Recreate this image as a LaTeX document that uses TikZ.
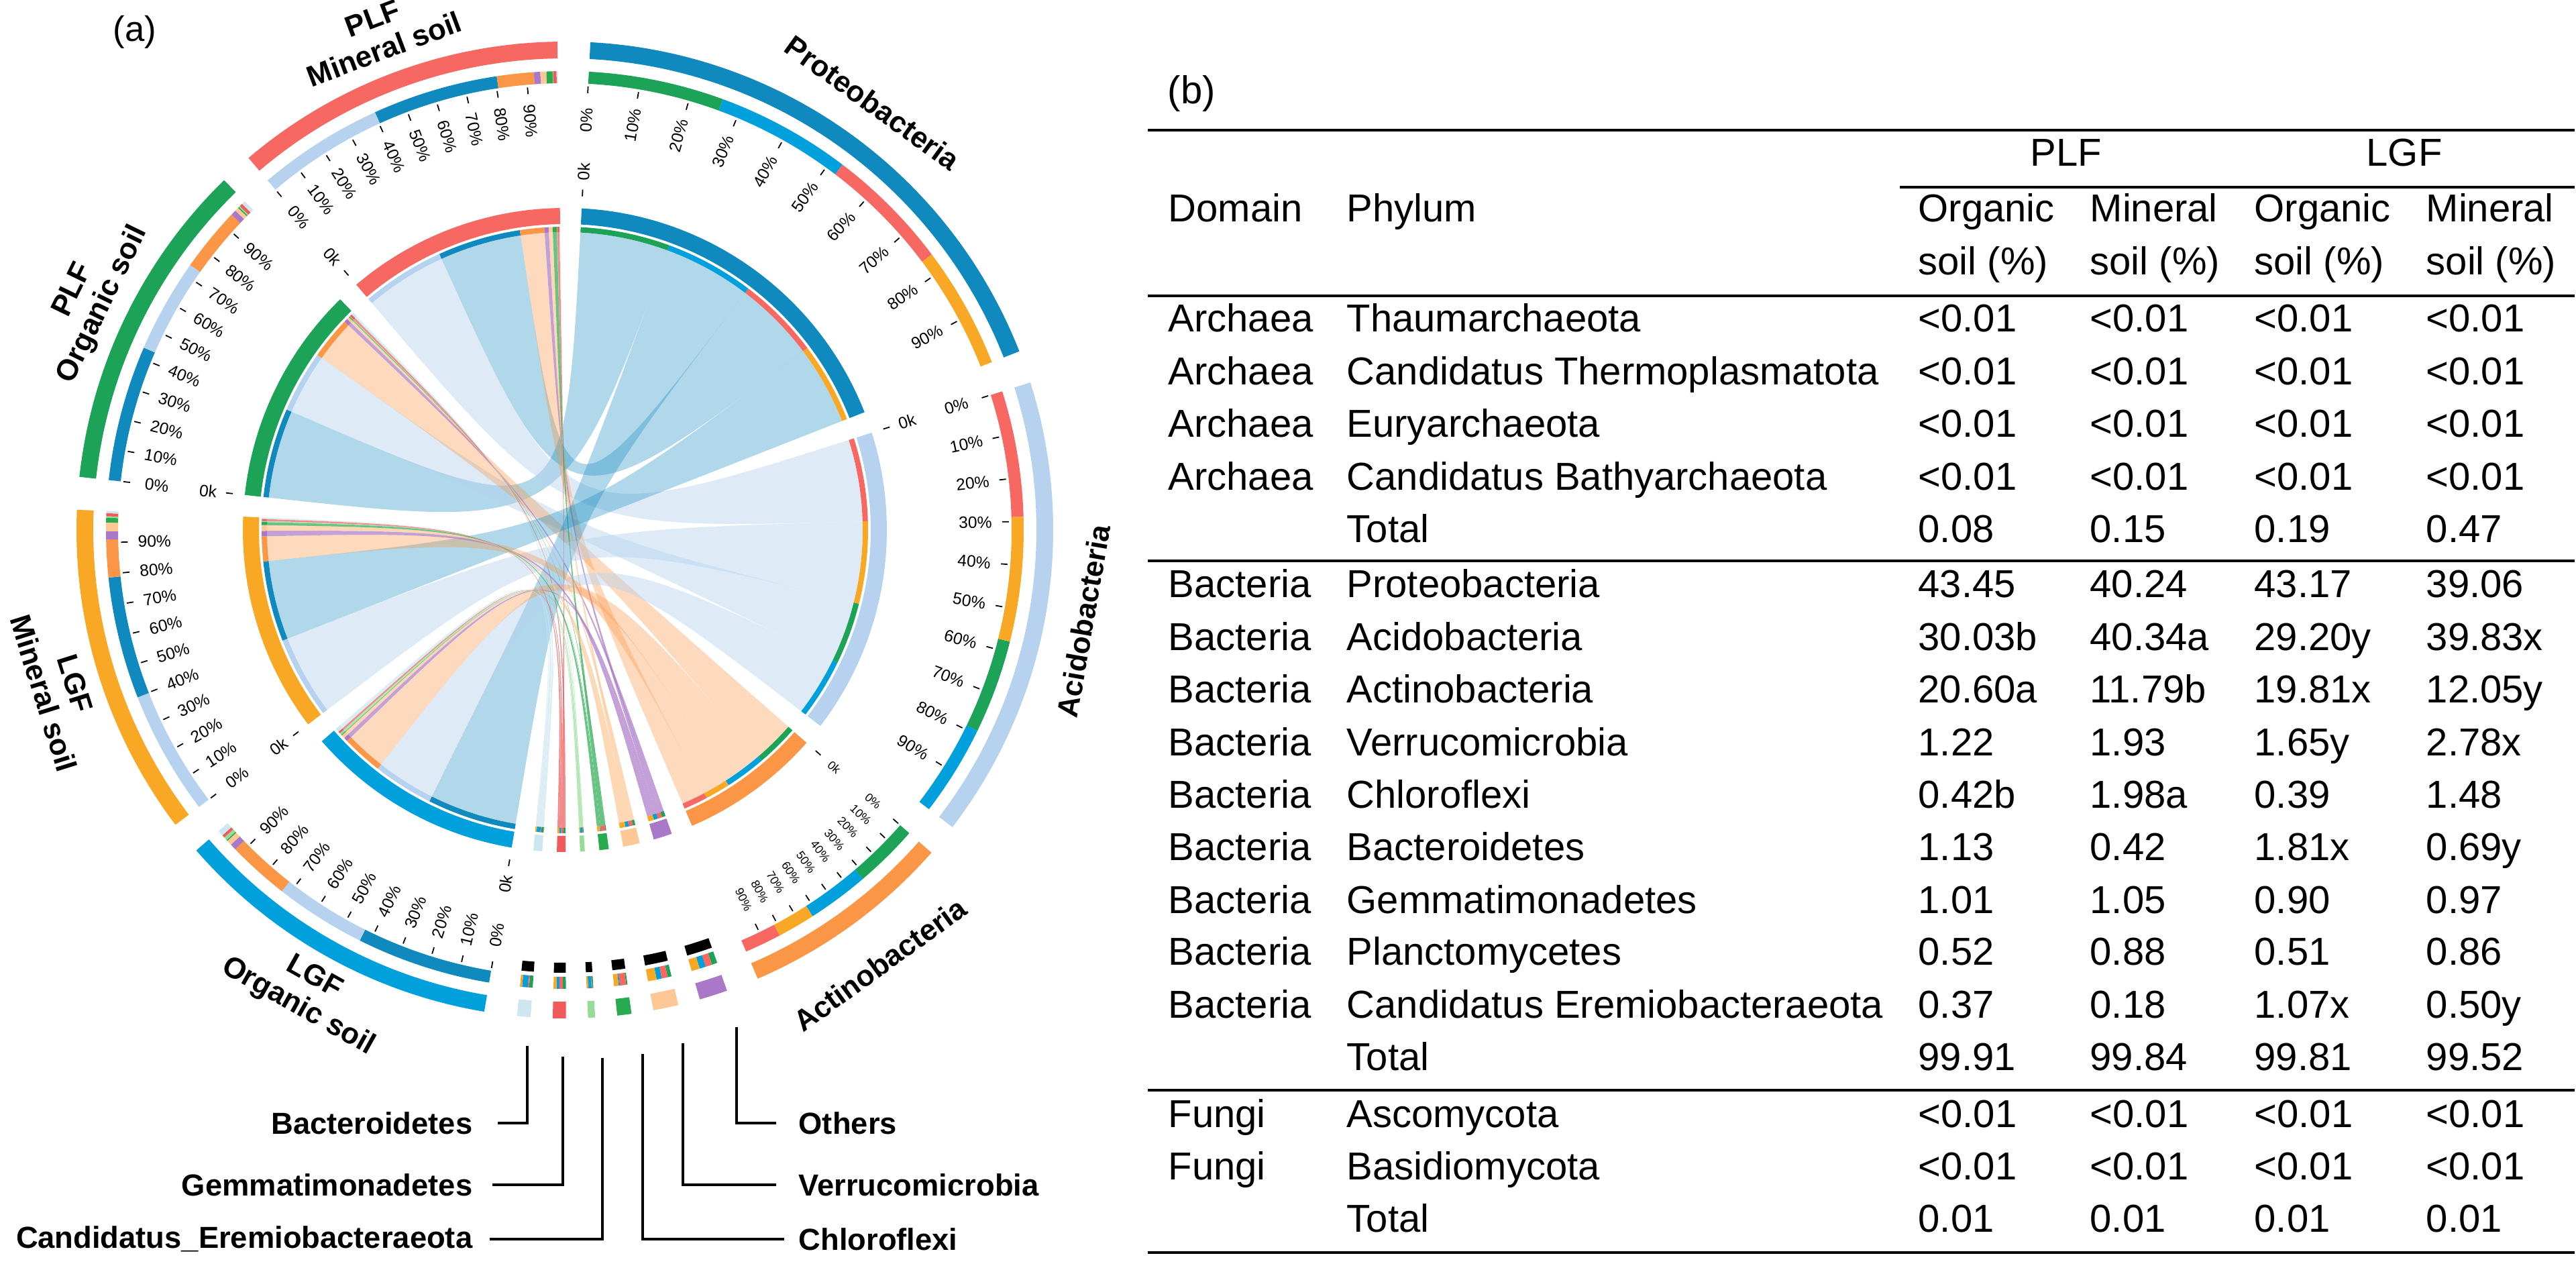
\documentclass[tikz,border=0pt]{standalone}
\usepackage{fontspec}
\setmainfont{Liberation Sans}
\usetikzlibrary{positioning}

\definecolor{plfmin}{RGB}{247,104,98}
\definecolor{plforg}{RGB}{28,163,88}
\definecolor{lgfmin}{RGB}{249,168,37}
\definecolor{lgforg}{RGB}{0,160,220}
\definecolor{proteo}{RGB}{16,137,190}
\definecolor{acido}{RGB}{182,210,238}
\definecolor{actino}{RGB}{250,150,70}
\definecolor{others}{RGB}{170,120,200}
\definecolor{verruco}{RGB}{253,200,150}
\definecolor{chloro}{RGB}{40,170,80}
\definecolor{cand}{RGB}{150,220,150}
\definecolor{gemmat}{RGB}{240,90,90}
\definecolor{bact}{RGB}{205,230,240}

% ring segment between two radii
\newcommand{\arcband}[5]{\fill[#5] (#1:#3) arc[start angle=#1,end angle=#2,radius=#3] -- (#2:#4) arc[start angle=#2,end angle=#1,radius=#4] -- cycle;}
% sample -> phylum ribbon, with its bars on both ends
\newcommand{\phylink}[7]{%
\fill[#7] (#1:4.44) arc[start angle=#1,end angle=#2,radius=4.44] .. controls (0,0) .. (#3:4.44) arc[start angle=#3,end angle=#4,radius=4.44] .. controls (0,0) .. (#1:4.44) -- cycle;
\arcband{#1}{#2}{4.44}{4.52}{#6}
\arcband{#1}{#2}{6.66}{6.84}{#6}
\arcband{#3}{#4}{4.44}{4.52}{#5}
\arcband{#3}{#4}{6.66}{6.84}{#5}}
% sector with axis and labels
\newcommand{\sector}[4]{%
\arcband{#1}{#2}{4.56}{4.80}{#3}
\arcband{#1}{#2}{7.03}{7.28}{#3}
\foreach \p in {0,...,9}{%
  \pgfmathsetmacro{\ang}{#1+(#2-#1)*\p/10}
  \pgfmathsetmacro{\rot}{cos(\ang)>=0 ? \ang : \ang+180}
  \draw[tickline] (\ang:6.52) -- (\ang:6.62);
  \node[pctlbl,rotate=\rot] (#4-\p) at (\ang:6.12) {\ifnum\p=0 0\else\p0\fi\%};
}
\pgfmathsetmacro{\rot}{cos(#1)>=0 ? #1 : #1+180}
\draw[tickline] (#1:4.98) -- (#1:5.08);
\node[pctlbl,rotate=\rot] (#4-k) at (#1:5.35) {0k};}
\newcommand{\smallsector}[3]{%
\arcband{#1}{#2}{4.56}{4.80}{#3}
\arcband{#1}{#2}{7.03}{7.28}{#3}
\arcband{#1}{#2}{6.45}{6.60}{black}}

\begin{document}
\begin{tikzpicture}[
    tickline/.style={line width=0.5pt},
    pctlbl/.style={font=\fontsize{7}{8}\selectfont, inner sep=0pt},
    secname/.style={font=\bfseries\fontsize{12.5}{14}\selectfont, align=center, inner sep=0pt},
    lbl/.style={font=\bfseries\fontsize{12.9}{15}\selectfont, inner sep=0pt},
    leader/.style={line width=1.2pt},
    tbl/.style={font=\fontsize{16.5}{19}\selectfont, anchor=west, inner sep=0pt, text height=1.2ex, text depth=0.25ex},
    rule/.style={line width=1pt},
    proteolink/.style={fill=proteo, opacity=0.33},
    acidolink/.style={fill=acido, opacity=0.45},
    actinolink/.style={fill=actino, opacity=0.35},
    smalllink/.style={fill=#1, opacity=0.7}]
\useasboundingbox (0,0) rectangle (38.4,18.95);

\node[font=\fontsize{15}{17}\selectfont, inner sep=0pt] (alabel) at (2.01,18.47) {(a)};

\begin{scope}[shift={(8.42,11.05)}]
% PLF organic soil
\phylink{-186.25}{-203.413}{87}{69.837}{plforg}{proteo}{proteolink}
\phylink{-203.413}{-215.275}{-14.080}{-25.942}{plforg}{acido}{acidolink}
\phylink{-215.275}{-223.412}{-41.351}{-49.488}{plforg}{actino}{actinolink}
\phylink{-223.412}{-224.111}{-70.605}{-71.304}{plforg}{others}{smalllink=others}
\phylink{-224.111}{-224.593}{-76.555}{-77.037}{plforg}{verruco}{smalllink=verruco}
\phylink{-224.593}{-224.759}{-82.149}{-82.315}{plforg}{chloro}{smalllink=chloro}
\phylink{-224.759}{-224.905}{-86.436}{-86.582}{plforg}{cand}{smalllink=cand}
\phylink{-224.905}{-225.304}{-89.873}{-90.272}{plforg}{gemmat}{smalllink=gemmat}
\phylink{-225.304}{-225.750}{-94.025}{-94.471}{plforg}{bact}{smalllink=bact}
% PLF mineral soil
\phylink{-229.625}{-245.559}{17.587}{1.653}{plfmin}{acido}{acidolink}
\phylink{-245.559}{-261.454}{52.785}{36.890}{plfmin}{proteo}{proteolink}
\phylink{-261.454}{-266.111}{-62.073}{-66.730}{plfmin}{actino}{actinolink}
\phylink{-266.111}{-266.929}{-71.304}{-72.122}{plfmin}{others}{smalllink=others}
\phylink{-266.929}{-267.691}{-77.037}{-77.799}{plfmin}{verruco}{smalllink=verruco}
\phylink{-267.691}{-268.473}{-82.315}{-83.097}{plfmin}{chloro}{smalllink=chloro}
\phylink{-268.473}{-268.544}{-86.582}{-86.653}{plfmin}{cand}{smalllink=cand}
\phylink{-268.544}{-268.959}{-90.272}{-90.687}{plfmin}{gemmat}{smalllink=gemmat}
\phylink{-268.959}{-269.125}{-94.471}{-94.637}{plfmin}{bact}{smalllink=bact}
% LGF organic soil
\phylink{-99.5}{-116.552}{69.837}{52.785}{lgforg}{proteo}{proteolink}
\phylink{-116.552}{-128.086}{-25.942}{-37.476}{lgforg}{acido}{acidolink}
\phylink{-128.086}{-135.911}{-49.488}{-57.313}{lgforg}{actino}{actinolink}
\phylink{-135.911}{-136.701}{-72.122}{-72.912}{lgforg}{others}{smalllink=others}
\phylink{-136.701}{-137.353}{-77.799}{-78.451}{lgforg}{verruco}{smalllink=verruco}
\phylink{-137.353}{-137.507}{-83.097}{-83.251}{lgforg}{chloro}{smalllink=chloro}
\phylink{-137.507}{-137.930}{-86.653}{-87.076}{lgforg}{cand}{smalllink=cand}
\phylink{-137.930}{-138.286}{-90.687}{-91.043}{lgforg}{gemmat}{smalllink=gemmat}
\phylink{-138.286}{-139.0}{-94.637}{-95.352}{lgforg}{bact}{smalllink=bact}
% LGF mineral soil
\phylink{-142.875}{-158.608}{1.653}{-14.080}{lgfmin}{acido}{acidolink}
\phylink{-158.608}{-174.037}{36.890}{21.462}{lgfmin}{proteo}{proteolink}
\phylink{-174.037}{-178.797}{-57.313}{-62.073}{lgfmin}{actino}{actinolink}
\phylink{-178.797}{-179.840}{-72.912}{-73.955}{lgfmin}{others}{smalllink=others}
\phylink{-179.840}{-180.938}{-78.451}{-79.549}{lgfmin}{verruco}{smalllink=verruco}
\phylink{-180.938}{-181.523}{-83.251}{-83.836}{lgfmin}{chloro}{smalllink=chloro}
\phylink{-181.523}{-181.721}{-87.076}{-87.274}{lgfmin}{cand}{smalllink=cand}
\phylink{-181.721}{-182.104}{-91.043}{-91.426}{lgfmin}{gemmat}{smalllink=gemmat}
\phylink{-182.104}{-182.375}{-95.352}{-95.625}{lgfmin}{bact}{smalllink=bact}

% sectors
\sector{87}{21.462}{proteo}{pro}
\sector{17.587}{-37.476}{acido}{aci}
\begin{scope}[pctlbl/.append style={font=\fontsize{5}{6}\selectfont}]
\sector{-41.351}{-66.730}{actino}{act}
\end{scope}
\sector{-99.5}{-139.0}{lgforg}{lo}
\sector{-142.875}{-182.375}{lgfmin}{lm}
\sector{-186.25}{-225.75}{plforg}{po}
\sector{-229.625}{-269.125}{plfmin}{pm}
\smallsector{-70.605}{-73.955}{others}
\smallsector{-76.555}{-79.549}{verruco}
\smallsector{-82.149}{-83.836}{chloro}
\smallsector{-86.436}{-87.274}{cand}
\smallsector{-89.873}{-91.426}{gemmat}
\smallsector{-94.025}{-95.625}{bact}

% sector names
\node[secname, rotate=-35.77] (proname) at (54.23:7.85) {Proteobacteria};
\node[secname, rotate=80.06] (aciname) at (-9.94:7.85) {Acidobacteria};
\node[secname, rotate=35.96] (actname) at (-54.04:8.0) {Actinobacteria};
\node[secname, rotate=20.6] (pmname) at (110.6:7.9) {PLF\\Mineral soil};
\node[secname, rotate=64] (poname) at (154:7.9) {PLF\\Organic soil};
\node[secname, rotate=-72.6] (lmname) at (197.4:7.9) {LGF\\Mineral soil};
\node[secname, rotate=-29.25] (loname) at (-119.25:7.9) {LGF\\Organic soil};
\end{scope}

% leaders for the small phyla
\coordinate (bactTop) at (7.86,3.36);
\coordinate (gemTop) at (8.39,3.20);
\coordinate (candTop) at (8.98,3.18);
\coordinate (chlTop) at (9.58,3.24);
\coordinate (verTop) at (10.18,3.40);
\coordinate (othTop) at (10.98,3.64);
\node[lbl, anchor=east] (bactLbl) at (7.05,2.21) {Bacteroidetes};
\node[lbl, anchor=east] (gemLbl) at (7.05,1.29) {Gemmatimonadetes};
\node[lbl, anchor=east] (candLbl) at (7.05,0.48) {Candidatus\_Eremiobacteraeota};
\node[lbl, anchor=west] (othLbl) at (11.90,2.21) {Others};
\node[lbl, anchor=west] (verLbl) at (11.90,1.29) {Verrucomicrobia};
\node[lbl, anchor=west] (chlLbl) at (11.90,0.48) {Chloroflexi};
\draw[leader] (bactTop) |- ([xshift=3.7mm]bactLbl.east);
\draw[leader] (gemTop) |- ([xshift=2.9mm]gemLbl.east);
\draw[leader] (candTop) |- ([xshift=2.5mm]candLbl.east);
\draw[leader] (othTop) |- ([xshift=-3.3mm]othLbl.west);
\draw[leader] (verTop) |- ([xshift=-3.3mm]verLbl.west);
\draw[leader] (chlTop) |- ([xshift=-2.1mm]chlLbl.west);

% table (b)
\node[tbl] (blabel) at (17.40,17.49) {(b)};
\draw[rule] (17.11,17.01) -- (38.38,17.01);
\draw[rule] (28.32,16.16) -- (38.38,16.16);
\draw[rule] (17.11,14.54) -- (38.38,14.54);
\draw[rule] (17.11,10.59) -- (38.38,10.59);
\draw[rule] (17.11,2.70) -- (38.38,2.70);
\draw[rule] (17.11,0.28) -- (38.38,0.28);
\node[tbl, anchor=center] (hplf) at (30.80,16.56) {PLF};
\node[tbl, anchor=center] (hlgf) at (35.84,16.56) {LGF};
\node[tbl] (hdom) at (17.41,15.73) {Domain};
\node[tbl] (hphy) at (20.07,15.73) {Phylum};
\node[tbl] (hc1) at (28.59,15.73) {Organic};
\node[tbl] (hc2) at (31.15,15.73) {Mineral};
\node[tbl] (hc3) at (33.60,15.73) {Organic};
\node[tbl] (hc4) at (36.16,15.73) {Mineral};
\node[tbl] (hs1) at (28.59,14.94) {soil (\%)};
\node[tbl] (hs2) at (31.15,14.94) {soil (\%)};
\node[tbl] (hs3) at (33.60,14.94) {soil (\%)};
\node[tbl] (hs4) at (36.16,14.94) {soil (\%)};
\foreach \y/\d/\ph/\a/\b/\c/\e [count=\i] in {
  14.09/Archaea/Thaumarchaeota/<0.01/<0.01/<0.01/<0.01,
  13.30/Archaea/Candidatus Thermoplasmatota/<0.01/<0.01/<0.01/<0.01,
  12.52/Archaea/Euryarchaeota/<0.01/<0.01/<0.01/<0.01,
  11.73/Archaea/Candidatus Bathyarchaeota/<0.01/<0.01/<0.01/<0.01,
  10.95//Total/0.08/0.15/0.19/0.47,
  10.13/Bacteria/Proteobacteria/43.45/40.24/43.17/39.06,
  9.34/Bacteria/Acidobacteria/30.03b/40.34a/29.20y/39.83x,
  8.56/Bacteria/Actinobacteria/20.60a/11.79b/19.81x/12.05y,
  7.77/Bacteria/Verrucomicrobia/1.22/1.93/1.65y/2.78x,
  6.99/Bacteria/Chloroflexi/0.42b/1.98a/0.39/1.48,
  6.21/Bacteria/Bacteroidetes/1.13/0.42/1.81x/0.69y,
  5.42/Bacteria/Gemmatimonadetes/1.01/1.05/0.90/0.97,
  4.65/Bacteria/Planctomycetes/0.52/0.88/0.51/0.86,
  3.86/Bacteria/Candidatus Eremiobacteraeota/0.37/0.18/1.07x/0.50y,
  3.08//Total/99.91/99.84/99.81/99.52,
  2.23/Fungi/Ascomycota/<0.01/<0.01/<0.01/<0.01,
  1.45/Fungi/Basidiomycota/<0.01/<0.01/<0.01/<0.01,
  0.67//Total/0.01/0.01/0.01/0.01}{
  \node[tbl] (dom\i) at (17.41,\y) {\d};
  \node[tbl] (phy\i) at (20.07,\y) {\ph};
  \node[tbl] (va\i) at (28.59,\y) {\a};
  \node[tbl] (vb\i) at (31.15,\y) {\b};
  \node[tbl] (vc\i) at (33.60,\y) {\c};
  \node[tbl] (ve\i) at (36.16,\y) {\e};
}
\end{tikzpicture}
\end{document}
